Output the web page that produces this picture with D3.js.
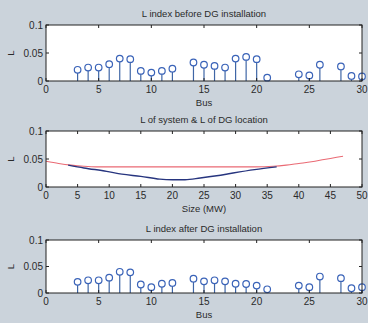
<!DOCTYPE html>
<html>
<head>
<meta charset="utf-8">
<script src="https://cdn.jsdelivr.net/npm/d3@7"></script>
<style>
  body { margin: 0; background: #cbd3db; }
  svg { display: block; }
  text { font-family: "Liberation Sans", Arial, sans-serif; fill: #2a2a2a; }
</style>
</head>
<body>
<svg id="chart" width="368" height="323"></svg>
<script>
// bus stems before DG
const busBefore = [3,4,5,6,7,8,9,10,11,12,14,15,16,17,18,19,20,21,24,25,26,28,29,30]
const lBefore = [0.020,0.024,0.024,0.030,0.040,0.039,0.018,0.015,0.018,0.022,0.033,0.029,0.027,0.024,0.040,0.043,0.039,0.006,0.012,0.010,0.029,0.026,0.009,0.008]
// bus stems after DG
const busAfter = busBefore
const lAfter = [0.021,0.024,0.024,0.029,0.040,0.039,0.016,0.011,0.0175,0.019,0.027,0.022,0.024,0.022,0.0175,0.017,0.014,0.007,0.014,0.011,0.031,0.028,0.009,0.011]
// L of system vs DG size
const sizeSys = [0,2,4,6,8,10,15,20,25,30,33,36,38,40,42,44,46,47]
const lSys = [0.046,0.042,0.039,0.037,0.036,0.036,0.036,0.036,0.036,0.036,0.036,0.037,0.039,0.042,0.045,0.049,0.053,0.055]
// L of DG location vs size
const sizeDG = [3.5,6,9.6,12,15,18,20,22,24.4,27,29.6,33,36.5]
const lDG = [0.039,0.034,0.028,0.023,0.019,0.014,0.013,0.013,0.016,0.020,0.025,0.031,0.036]

const titles = ["L index before DG installation","L of system & L of DG location","L index after DG installation"]
const xlabels = ["Bus","Size (MW)","Bus"]
const yTicks = [0, 0.05, 0.1]

let svg = d3.select("#chart")
const left = 46, right = 362

let panels = [
  {top:25, bottom:81, xmax:30, xt:d3.range(0,31,5)},
  {top:131, bottom:187, xmax:50, xt:d3.range(0,51,5)},
  {top:240, bottom:293, xmax:30, xt:d3.range(0,31,5)}
]

panels.forEach((p,i) => {
  let x = d3.scaleLinear().domain([0,p.xmax]).range([left,right])
  let y = d3.scaleLinear().domain([0,0.1]).range([p.bottom,p.top])
  let g = svg.append("g")
  g.append("rect").attr("x",left).attr("y",p.top)
    .attr("width",right-left).attr("height",p.bottom-p.top)
    .attr("fill","#fff")

  //data
  if(i === 1) {
    let line = d3.line().x(d=>x(d[0])).y(d=>y(d[1])).curve(d3.curveMonotoneX)
    g.append("path").datum(d3.zip(sizeSys,lSys)).attr("d",line)
      .attr("fill","none").attr("stroke","#ea6a74").attr("stroke-width",1.1)
    g.append("path").datum(d3.zip(sizeDG,lDG)).attr("d",line)
      .attr("fill","none").attr("stroke","#27357f").attr("stroke-width",1.4)
  } else {
    let bus = i === 0 ? busBefore : busAfter
    let vals = i === 0 ? lBefore : lAfter
    let pts = d3.zip(bus,vals)
    g.selectAll(".stem").data(pts).enter().append("line")
      .attr("x1",d=>x(d[0])).attr("x2",d=>x(d[0]))
      .attr("y1",y(0)).attr("y2",d=>y(d[1]))
      .attr("stroke","#3f66a6").attr("stroke-width",1.2)
    g.selectAll(".dot").data(pts).enter().append("circle")
      .attr("cx",d=>x(d[0])).attr("cy",d=>y(d[1])).attr("r",3.3)
      .attr("fill","#fff").attr("stroke","#3a63b8").attr("stroke-width",1.2)
  }

  //box
  g.append("rect").attr("x",left).attr("y",p.top)
    .attr("width",right-left).attr("height",p.bottom-p.top)
    .attr("fill","none").attr("stroke","#222").attr("stroke-width",1)

  //ticks inward
  let tk = g.append("g").attr("stroke","#222")
  p.xt.forEach(t => {
    tk.append("line").attr("x1",x(t)).attr("x2",x(t)).attr("y1",p.bottom).attr("y2",p.bottom-3)
    tk.append("line").attr("x1",x(t)).attr("x2",x(t)).attr("y1",p.top).attr("y2",p.top+3)
  })
  yTicks.forEach(t => {
    tk.append("line").attr("x1",left).attr("x2",left+3).attr("y1",y(t)).attr("y2",y(t))
    tk.append("line").attr("x1",right).attr("x2",right-3).attr("y1",y(t)).attr("y2",y(t))
  })

  //tick labels
  g.selectAll(".xl").data(p.xt).enter().append("text")
    .attr("x",d=>x(d)).attr("y",p.bottom+12).attr("text-anchor","middle")
    .attr("font-size",10).text(d=>d)
  g.selectAll(".yl").data(yTicks).enter().append("text")
    .attr("x",left-3).attr("y",d=>y(d)+3.5).attr("text-anchor","end")
    .attr("font-size",10).text(d=>d === 0 ? "0" : d === 0.1 ? "0.1" : "0.05")

  //labels
  g.append("text").attr("x",(left+right)/2).attr("y",p.top-8)
    .attr("text-anchor","middle").attr("font-size",9.5).text(titles[i])
  g.append("text").attr("x",(left+right)/2).attr("y",p.bottom+25)
    .attr("text-anchor","middle").attr("font-size",9.5).text(xlabels[i])
  g.append("text").attr("transform",`translate(14,${(p.top+p.bottom)/2}) rotate(-90)`)
    .attr("text-anchor","middle").attr("font-size",9.5).text("L")
})
</script>
</body>
</html>
